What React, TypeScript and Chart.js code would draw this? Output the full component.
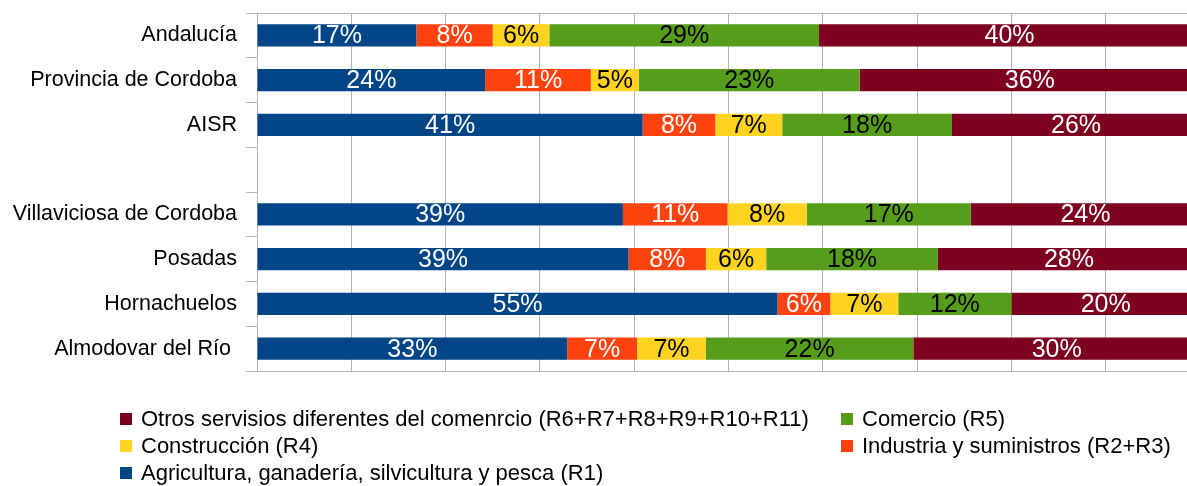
import React, { useEffect, useRef } from "react";
import { Chart, registerables } from "chart.js";

Chart.register(...registerables);

const categories = [
  "Andalucía",
  "Provincia de Cordoba",
  "AISR",
  "",
  "Villaviciosa de Cordoba",
  "Posadas",
  "Hornachuelos",
  "Almodovar del Río ",
];

const agricultura = [16.9, 24.2, 40.9, null, 38.8, 39.4, 55.2, 32.9];
const industria = [8.1, 11.2, 7.7, null, 11.1, 8.2, 5.6, 7.4];
const construccion = [6.0, 5.1, 7.1, null, 8.4, 6.4, 7.2, 7.3];
const comercio = [28.6, 23.4, 18.0, null, 17.4, 18.2, 12.0, 22.0];
const otros = [40.4, 36.1, 26.3, null, 24.3, 27.8, 20.0, 30.4];

const seriesNames = [
  "Agricultura, ganadería, silvicultura y pesca (R1)",
  "Industria y suministros (R2+R3)",
  "Construcción (R4)",
  "Comercio (R5)",
  "Otros servisios diferentes del comenrcio (R6+R7+R8+R9+R10+R11)",
];
const seriesColors = ["#004586", "#ff420e", "#ffd320", "#579d1c", "#7e0021"];
const labelColors = ["#ffffff", "#ffffff", "#000000", "#000000", "#ffffff"];
const legendOrder = [4, 3, 2, 1, 0];

const FONT = '"Liberation Sans", Arial, sans-serif';
const GRID = "#b3b3b3";

const barLabelPlugin = {
  id: "barLabels",
  afterDatasetsDraw(chart: any) {
    const ctx = chart.ctx;
    ctx.save();
    ctx.font = `25px ${FONT}`;
    ctx.textAlign = "center";
    ctx.textBaseline = "middle";
    chart.data.datasets.forEach((ds: any, i: number) => {
      const meta = chart.getDatasetMeta(i);
      meta.data.forEach((el: any, j: number) => {
        const v = ds.data[j];
        if (v == null) return;
        const p = el.getProps(["x", "y", "base"], true);
        ctx.fillStyle = labelColors[i];
        ctx.fillText(Math.round(v) + "%", (p.x + p.base) / 2, p.y + 1);
      });
    });
    ctx.restore();
  },
};

const frameAndLegendPlugin = {
  id: "frameLegend",
  afterDraw(chart: any) {
    const ctx = chart.ctx;
    const area = chart.chartArea;
    ctx.save();
    ctx.strokeStyle = GRID;
    ctx.lineWidth = 1;
    ctx.beginPath();
    ctx.moveTo(area.left, Math.round(area.top) + 0.5);
    ctx.lineTo(area.right, Math.round(area.top) + 0.5);
    ctx.stroke();

    const colX = [120, 841];
    const rowY = [419, 446, 473];
    ctx.font = `22px ${FONT}`;
    ctx.textAlign = "left";
    ctx.textBaseline = "middle";
    legendOrder.forEach((dsIndex, k) => {
      const col = k % 2;
      const row = Math.floor(k / 2);
      const x = colX[col];
      const y = rowY[row];
      ctx.fillStyle = seriesColors[dsIndex];
      ctx.fillRect(x, y - 6, 12, 12);
      ctx.fillStyle = "#000000";
      ctx.fillText(seriesNames[dsIndex], x + 21, y + 1);
    });
    ctx.restore();
  },
};

export default function App() {
  const canvasRef = useRef<HTMLCanvasElement | null>(null);

  useEffect(() => {
    document.body.style.margin = "0";
    const canvas = canvasRef.current;
    if (!canvas) return;
    const series = [agricultura, industria, construccion, comercio, otros];
    const chart = new Chart(canvas, {
      type: "bar",
      data: {
        labels: categories,
        datasets: series.map((d, i) => ({
          label: seriesNames[i],
          data: d,
          backgroundColor: seriesColors[i],
          borderWidth: 0,
          barPercentage: 0.5,
          categoryPercentage: 1,
        })),
      },
      options: {
        indexAxis: "y",
        responsive: false,
        animation: false,
        devicePixelRatio: 1,
        layout: { padding: { top: 13, left: 0, right: 0, bottom: 0 } },
        plugins: {
          legend: { display: false },
          tooltip: { enabled: false },
        },
        scales: {
          x: {
            stacked: true,
            min: 0,
            max: 100,
            ticks: { display: false, stepSize: 10 },
            grid: { color: GRID, drawTicks: false, lineWidth: 1 },
            border: { display: true, color: GRID },
            afterFit: (s: any) => {
              s.height = 115;
              s.paddingLeft = 0;
              s.paddingRight = 0;
            },
          },
          y: {
            stacked: true,
            grid: {
              offset: true,
              drawOnChartArea: false,
              drawTicks: true,
              tickLength: 11,
              color: GRID,
            },
            border: { display: true, color: GRID },
            ticks: {
              color: "#000000",
              padding: 9,
              font: { family: FONT, size: 21.5 },
              autoSkip: false,
            },
            afterFit: (s: any) => {
              s.width = 257;
              s.paddingTop = 0;
              s.paddingBottom = 0;
            },
          },
        },
      },
      plugins: [barLabelPlugin, frameAndLegendPlugin],
    } as any);
    return () => chart.destroy();
  }, []);

  return (
    <div style={{ width: 1187, height: 486, overflow: "hidden", position: "relative" }}>
      <canvas ref={canvasRef} width={1200} height={486} style={{ display: "block" }} />
    </div>
  );
}
